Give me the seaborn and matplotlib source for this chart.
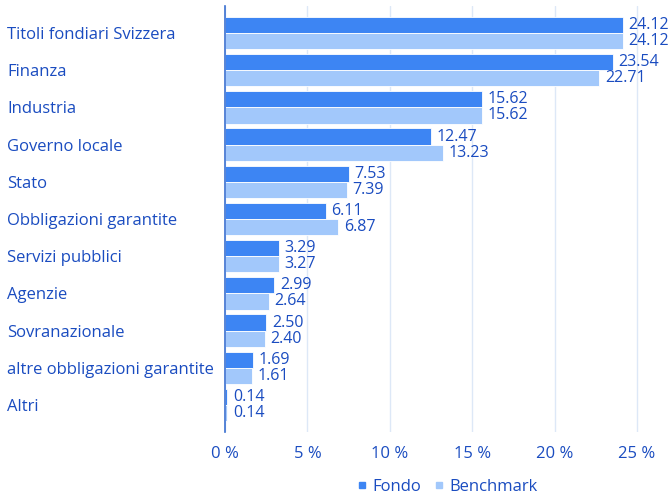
import matplotlib
matplotlib.use("Agg")
import matplotlib.pyplot as plt
from matplotlib.lines import Line2D
import seaborn as sns
import pandas as pd

# dati
categorie = ["Titoli fondiari Svizzera", "Finanza", "Industria", "Governo locale",
             "Stato", "Obbligazioni garantite", "Servizi pubblici", "Agenzie",
             "Sovranazionale", "altre obbligazioni garantite", "Altri"]
fondo = [24.12, 23.54, 15.62, 12.47, 7.53, 6.11, 3.29, 2.99, 2.50, 1.69, 0.14]
benchmark = [24.12, 22.71, 15.62, 13.23, 7.39, 6.87, 3.27, 2.64, 2.40, 1.61, 0.14]
serie = ["Fondo", "Benchmark"]
xticks = [0, 5, 10, 15, 20, 25]
xticklabels = ["0 %", "5 %", "10 %", "15 %", "20 %", "25 %"]

df = pd.DataFrame({
    "categoria": categorie * 2,
    "valore": fondo + benchmark,
    "serie": [serie[0]] * len(fondo) + [serie[1]] * len(benchmark),
})

text_col = "#1a4cc0"
colori = ["#3d85f3", "#a2c8fb"]

sns.set_style("white")
plt.rcParams["font.family"] = ["Open Sans", "DejaVu Sans"]

fig = plt.figure(figsize=(6.7, 4.99), dpi=100)
ax = fig.add_axes([225 / 670, 1 - 432 / 499, 445 / 670, 426 / 499])

sns.barplot(data=df, y="categoria", x="valore", hue="serie", orient="h",
            palette=colori, saturation=1, width=0.87, ax=ax, legend=False,
            edgecolor="white", linewidth=0.6)

for cont in ax.containers:
    ax.bar_label(cont, fmt="%.2f", padding=4, color=text_col, fontsize=11.5)

ax.set_xlim(0, 27)
ax.set_ylim(10.726, -0.726)
ax.set_xticks(xticks)
ax.set_xticklabels(xticklabels)
ax.grid(axis="x", color="#dde8f7", linewidth=1)
ax.set_axisbelow(True)
for s in ["top", "right", "bottom"]:
    ax.spines[s].set_visible(False)
ax.spines["left"].set_color("#3a6fd0")
ax.spines["left"].set_linewidth(1.2)
ax.set_xlabel("")
ax.set_ylabel("")
ax.tick_params(axis="y", length=0, pad=157, labelsize=12, labelcolor=text_col)
ax.tick_params(axis="x", length=0, pad=10, labelsize=12, labelcolor=text_col)
for t in ax.get_yticklabels():
    t.set_ha("left")

handles = [Line2D([], [], marker="s", ls="", color=c, markersize=4.5) for c in colori]
leg = ax.legend(handles, serie, loc="upper center", bbox_to_anchor=(0.5, -0.103),
                ncol=2, frameon=False, handlelength=0.6, handletextpad=0.3,
                columnspacing=0.8, fontsize=12, borderaxespad=0, borderpad=0.2)
for t in leg.get_texts():
    t.set_color(text_col)

fig.savefig("out.png", dpi=100)
